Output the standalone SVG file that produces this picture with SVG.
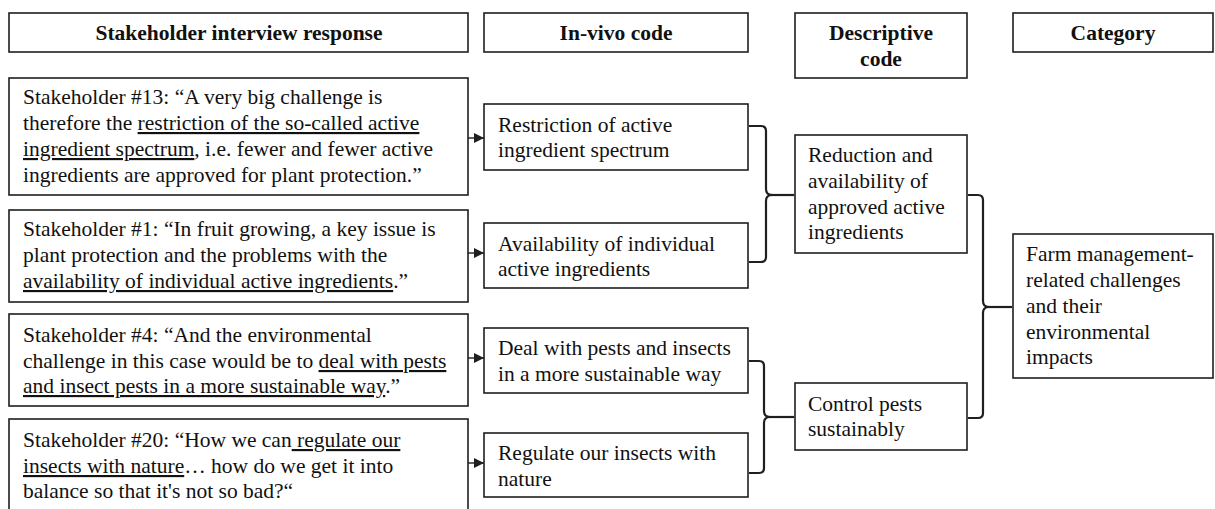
<svg xmlns="http://www.w3.org/2000/svg" width="1215" height="509" viewBox="0 0 1215 509" font-family="Liberation Serif, Tinos, DejaVu Serif, serif">
  <style>
    .box { fill: #ffffff; stroke: #1f1f1f; stroke-width: 1.6; }
    text { font-family: "Liberation Serif", Tinos, "DejaVu Serif", serif; font-size: 21.5px; fill: #111111; }
    .hdr { font-weight: bold; text-anchor: middle; }
    .u { text-decoration: underline; }
    .link { fill: none; stroke: #1f1f1f; stroke-width: 1.4; }
    .brace { fill: none; stroke: #1f1f1f; stroke-width: 2.2; stroke-linejoin: round; }
  </style>
  <defs>
    <marker id="arrow" viewBox="0 0 10 10" refX="10" refY="5" markerWidth="10" markerHeight="10" markerUnits="userSpaceOnUse" orient="auto">
      <path d="M0,0 L10,5 L0,10 z" fill="#1f1f1f"/>
    </marker>
  </defs>
  <rect width="1215" height="509" fill="#ffffff"/>

  <!-- column headers -->
  <g id="hdr-response">
    <rect class="box" x="9" y="13" width="459" height="39"/>
    <text class="hdr" x="239" y="40">Stakeholder interview response</text>
  </g>
  <g id="hdr-invivo">
    <rect class="box" x="484" y="13" width="264" height="39"/>
    <text class="hdr" x="616" y="40">In-vivo code</text>
  </g>
  <g id="hdr-descriptive">
    <rect class="box" x="795" y="13" width="172" height="65"/>
    <text class="hdr" x="881" y="40">Descriptive</text>
    <text class="hdr" x="881" y="66">code</text>
  </g>
  <g id="hdr-category">
    <rect class="box" x="1013" y="13" width="200" height="39"/>
    <text class="hdr" x="1113" y="40">Category</text>
  </g>

  <!-- interview responses -->
  <g id="resp-13">
    <rect class="box" x="9" y="78" width="459" height="117"/>
    <text x="23" y="104">Stakeholder #13: “A very big challenge is</text>
    <text x="23" y="130">therefore the <tspan class="u">restriction of the so-called active</tspan></text>
    <text x="23" y="156"><tspan class="u">ingredient spectrum</tspan>, i.e. fewer and fewer active</text>
    <text x="23" y="182">ingredients are approved for plant protection.”</text>
  </g>
  <g id="resp-1">
    <rect class="box" x="9" y="210" width="459" height="92"/>
    <text x="23" y="236">Stakeholder #1: “In fruit growing, a key issue is</text>
    <text x="23" y="262">plant protection and the problems with the</text>
    <text x="23" y="288"><tspan class="u">availability of individual active ingredients</tspan>.”</text>
  </g>
  <g id="resp-4">
    <rect class="box" x="9" y="314" width="459" height="92"/>
    <text x="23" y="342">Stakeholder #4: “And the environmental</text>
    <text x="23" y="368">challenge in this case would be to <tspan class="u">deal with pests</tspan></text>
    <text x="23" y="393"><tspan class="u">and insect pests in a more sustainable way</tspan>.”</text>
  </g>
  <g id="resp-20">
    <rect class="box" x="9" y="419" width="459" height="100"/>
    <text x="23" y="447">Stakeholder #20: “How we can<tspan class="u"> regulate our</tspan></text>
    <text x="23" y="473"><tspan class="u">insects with nature</tspan>… how do we get it into</text>
    <text x="23" y="498">balance so that it's not so bad?“</text>
  </g>

  <!-- in-vivo codes -->
  <g id="invivo-restriction">
    <rect class="box" x="484" y="104" width="264" height="66"/>
    <text x="498" y="132">Restriction of active</text>
    <text x="498" y="157">ingredient spectrum</text>
  </g>
  <g id="invivo-availability">
    <rect class="box" x="484" y="223" width="264" height="65"/>
    <text x="498" y="250.5">Availability of individual</text>
    <text x="498" y="275.5">active ingredients</text>
  </g>
  <g id="invivo-pests">
    <rect class="box" x="484" y="328" width="264" height="65"/>
    <text x="498" y="355">Deal with pests and insects</text>
    <text x="498" y="380.5">in a more sustainable way</text>
  </g>
  <g id="invivo-regulate">
    <rect class="box" x="484" y="433" width="264" height="64"/>
    <text x="498" y="460">Regulate our insects with</text>
    <text x="498" y="485.5">nature</text>
  </g>

  <!-- descriptive codes -->
  <g id="desc-reduction">
    <rect class="box" x="795" y="135" width="172" height="118"/>
    <text x="808" y="162">Reduction and</text>
    <text x="808" y="188">availability of</text>
    <text x="808" y="214">approved active</text>
    <text x="808" y="239">ingredients</text>
  </g>
  <g id="desc-control">
    <rect class="box" x="795" y="383" width="172" height="67"/>
    <text x="808" y="410.5">Control pests</text>
    <text x="808" y="436">sustainably</text>
  </g>

  <!-- category -->
  <g id="category-farm">
    <rect class="box" x="1013" y="234" width="200" height="144"/>
    <text x="1026" y="260.5">Farm management-</text>
    <text x="1026" y="287">related challenges</text>
    <text x="1026" y="313">and their</text>
    <text x="1026" y="339">environmental</text>
    <text x="1026" y="364">impacts</text>
  </g>

  <!-- connectors: arrows and grouping braces -->
  <g id="connectors">
    <line class="link" x1="468" y1="138" x2="484" y2="138" marker-end="url(#arrow)"/>
    <line class="link" x1="468" y1="253" x2="484" y2="253" marker-end="url(#arrow)"/>
    <line class="link" x1="468" y1="358" x2="484" y2="358" marker-end="url(#arrow)"/>
    <line class="link" x1="468" y1="463" x2="484" y2="463" marker-end="url(#arrow)"/>

    <path class="brace" d="M749,126 H761 Q766,126 766,131 V189 Q766,195 772,195 Q766,195 766,201 V257 Q766,262 761,262 H749"/>
    <line class="brace" x1="771" y1="195" x2="794" y2="195"/>

    <path class="brace" d="M749,361 H759 Q764,361 764,366 V411 Q764,417 770,417 Q764,417 764,423 V468 Q764,473 759,473 H749"/>
    <line class="brace" x1="769" y1="417" x2="794" y2="417"/>

    <path class="brace" d="M968,195 H978 Q983,195 983,200 V301 Q983,307 989,307 Q983,307 983,313 V413 Q983,418 978,418 H968"/>
    <line class="brace" x1="988" y1="307" x2="1012" y2="307"/>
  </g>
</svg>
